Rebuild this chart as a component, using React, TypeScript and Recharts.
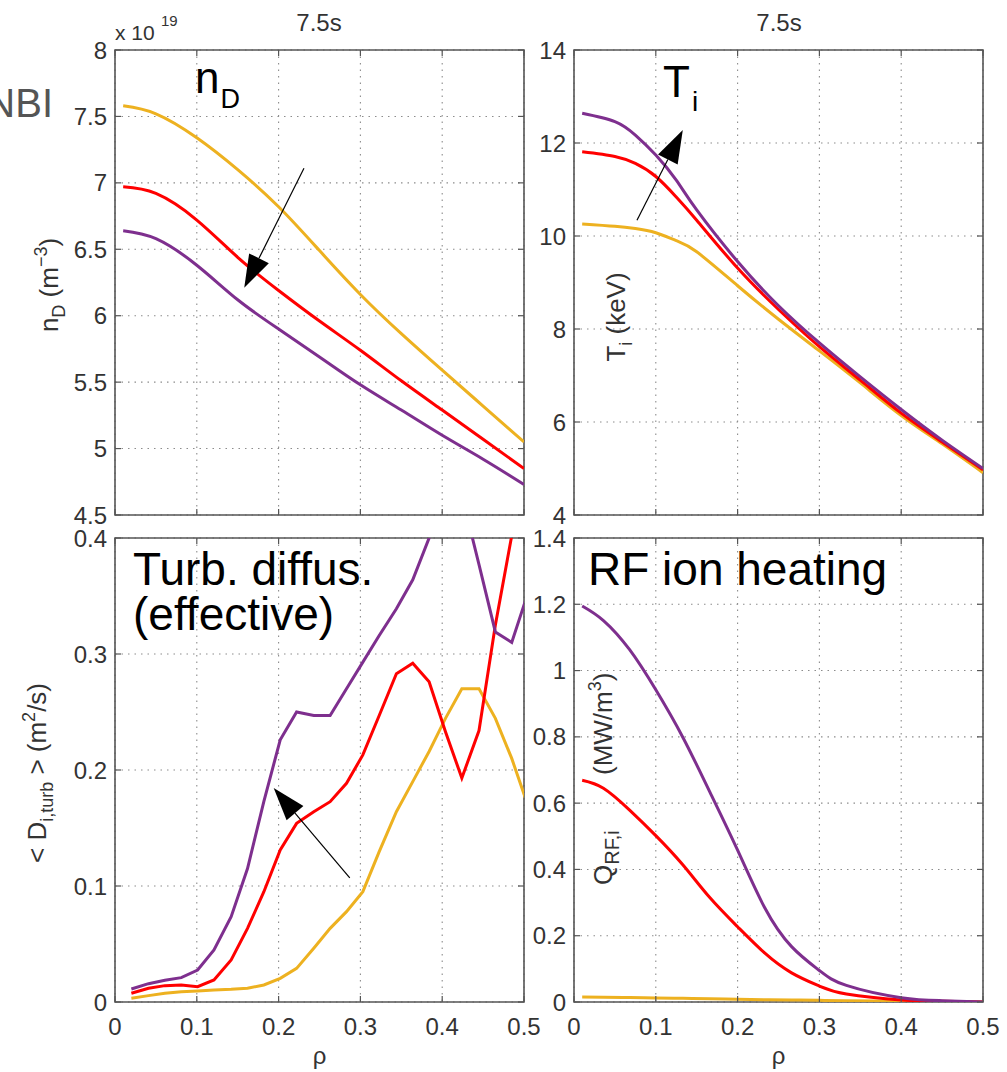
import React from 'react';
import { LineChart, Line, XAxis, YAxis, CartesianGrid, ReferenceArea, ReferenceLine } from 'recharts';

const FONT = '"Liberation Sans", Arial, Helvetica, sans-serif';
const YELLOW = '#EDB120';
const RED = '#FF0000';
const PURPLE = '#7E2F8E';
const FRAME = '#555555';
const TICK_TEXT = '#333333';
const GRID = '#8c8c8c';

// ---------- Panel 1: n_D (x10^19 m^-3) ----------
const rhoND = [0.01, 0.05, 0.1, 0.15, 0.2, 0.25, 0.3, 0.35, 0.4, 0.45, 0.5];
const nDYellow = [7.58, 7.52, 7.34, 7.1, 6.82, 6.49, 6.16, 5.865, 5.59, 5.32, 5.05];
const nDRed = [6.97, 6.92, 6.72, 6.44, 6.19, 5.96, 5.74, 5.51, 5.29, 5.07, 4.85];
const nDPurple = [6.64, 6.58, 6.38, 6.12, 5.9, 5.69, 5.48, 5.29, 5.1, 4.92, 4.73];

// ---------- Panel 2: T_i (keV) ----------
const rhoTi = [0.01, 0.05, 0.075, 0.1, 0.125, 0.15, 0.2, 0.25, 0.3, 0.35, 0.4, 0.45, 0.5];
const TiYellow = [10.26, 10.21, 10.16, 10.07, 9.9, 9.66, 8.93, 8.21, 7.53, 6.84, 6.14, 5.53, 4.91];
const TiRed = [11.81, 11.71, 11.56, 11.28, 10.84, 10.34, 9.31, 8.42, 7.62, 6.9, 6.19, 5.57, 4.97];
const TiPurple = [12.64, 12.46, 12.17, 11.74, 11.2, 10.56, 9.45, 8.5, 7.7, 6.97, 6.27, 5.61, 5.0];

// ---------- Panel 3: <D_i,turb> (m^2/s) ----------
const rhoD = [0.02, 0.041, 0.061, 0.081, 0.101, 0.121, 0.142, 0.162, 0.182, 0.202, 0.222, 0.243, 0.263,
  0.283, 0.303, 0.323, 0.344, 0.364, 0.384, 0.404, 0.424, 0.445, 0.465, 0.485, 0.505];
const DYellow = [0.0032, 0.0055, 0.0075, 0.0089, 0.0095, 0.0103, 0.0109, 0.0118, 0.0147, 0.0204, 0.029, 0.0463, 0.0635,
  0.0779, 0.0951, 0.1296, 0.164, 0.19, 0.216, 0.2445, 0.27, 0.27, 0.2445, 0.21, 0.169];
const DRed = [0.0075, 0.0118, 0.0141, 0.0147, 0.0132, 0.019, 0.0362, 0.0635, 0.0951, 0.131, 0.154, 0.164, 0.1727,
  0.1885, 0.213, 0.247, 0.283, 0.292, 0.276, 0.233, 0.193, 0.234, 0.325, 0.402, 0.48];
const DPurple = [0.0112, 0.0158, 0.0187, 0.021, 0.0276, 0.0448, 0.0736, 0.115, 0.173, 0.226, 0.25, 0.247, 0.247,
  0.27, 0.293, 0.316, 0.339, 0.364, 0.4, 0.46, 0.437, 0.377, 0.319, 0.31, 0.353];

// ---------- Panel 4: Q_RF,i (MW/m^3) ----------
const rhoQ = [0.01, 0.036, 0.068, 0.1, 0.133, 0.166, 0.2, 0.233, 0.266, 0.3, 0.333, 0.4, 0.45, 0.5];
const QYellow = [0.015, 0.0145, 0.0135, 0.012, 0.011, 0.01, 0.008, 0.007, 0.006, 0.005, 0.004, 0.002, 0.001, 0.0];
const QRed = [0.669, 0.645, 0.579, 0.502, 0.414, 0.315, 0.227, 0.148, 0.088, 0.048, 0.024, 0.006, 0.002, 0.0];
const QPurple = [1.195, 1.151, 1.063, 0.942, 0.799, 0.634, 0.458, 0.285, 0.167, 0.095, 0.05, 0.013, 0.004, 0.0];

// ---------- Ticks ----------
const xTicks = [0, 0.1, 0.2, 0.3, 0.4, 0.5];
const nDTicks = [4.5, 5, 5.5, 6, 6.5, 7, 7.5, 8];
const TiTicks = [4, 6, 8, 10, 12, 14];
const DTicks = [0, 0.1, 0.2, 0.3, 0.4];
const QTicks = [0, 0.2, 0.4, 0.6, 0.8, 1, 1.2, 1.4];

// ---------- Arrow annotations (data coordinates) ----------
const arrowND = [{ x: 0.231, y: 7.11 }, { x: 0.158, y: 6.21 }];
const arrowTi = [{ x: 0.077, y: 10.34 }, { x: 0.133, y: 12.28 }];
const arrowD = [{ x: 0.287, y: 0.107 }, { x: 0.194, y: 0.1845 }];

function rows(rho: number[], y: number[], r: number[], p: number[]) {
  return rho.map((x, i) => ({ rho: x, yellow: y[i], red: r[i], purple: p[i] }));
}

const ArrowShape = (p: any) => {
  const { x1, y1, x2, y2 } = p;
  const dx = x2 - x1;
  const dy = y2 - y1;
  const len = Math.hypot(dx, dy) || 1;
  const ux = dx / len;
  const uy = dy / len;
  const hl = 33;
  const hw = 11;
  const bx = x2 - ux * hl;
  const by = y2 - uy * hl;
  const px = -uy;
  const py = ux;
  return (
    <g>
      <line x1={x1} y1={y1} x2={bx} y2={by} stroke="#000" strokeWidth={1.2} />
      <polygon
        points={`${x2},${y2} ${bx + px * hw},${by + py * hw} ${bx - px * hw},${by - py * hw}`}
        fill="#000"
      />
    </g>
  );
};

function makeXTick(plotH: number, showLabel: boolean) {
  return (props: any) => {
    const { x, y, payload } = props;
    return (
      <g>
        <line x1={x} x2={x} y1={y} y2={y - 6} stroke={FRAME} strokeWidth={1.2} />
        <line x1={x} x2={x} y1={y - plotH} y2={y - plotH + 6} stroke={FRAME} strokeWidth={1.2} />
        {showLabel && (
          <text x={x} y={y + 33} textAnchor="middle" fontSize={24} fill={TICK_TEXT} fontFamily={FONT}>
            {String(payload.value)}
          </text>
        )}
      </g>
    );
  };
}

function makeYTick(plotW: number) {
  return (props: any) => {
    const { x, y, payload } = props;
    return (
      <g>
        <line x1={x} x2={x + 6} y1={y} y2={y} stroke={FRAME} strokeWidth={1.2} />
        <line x1={x + plotW} x2={x + plotW - 6} y1={y} y2={y} stroke={FRAME} strokeWidth={1.2} />
        <text x={x - 8} y={y} dy="0.36em" textAnchor="end" fontSize={24} fill={TICK_TEXT} fontFamily={FONT}>
          {String(payload.value)}
        </text>
      </g>
    );
  };
}

type PanelProps = {
  left: number;
  top: number;
  width: number;
  height: number;
  margin: { top: number; right: number; bottom: number; left: number };
  yWidth: number;
  xHeight: number;
  data: any[];
  yDomain: [number, number];
  yTicks: number[];
  showXLabels: boolean;
  curve: 'natural' | 'linear' | 'monotone';
  arrow?: { x: number; y: number }[];
};

function Panel(props: PanelProps) {
  const { left, top, width, height, margin, yWidth, xHeight, data, yDomain, yTicks, showXLabels, curve, arrow } = props;
  const plotW = width - margin.left - margin.right - yWidth;
  const plotH = height - margin.top - margin.bottom - xHeight;
  return (
    <div style={{ position: 'absolute', left, top, width, height }}>
      <LineChart width={width} height={height} data={data} margin={margin}>
        <CartesianGrid stroke={GRID} strokeDasharray="1.5 5" strokeWidth={1.1} />
        <XAxis
          dataKey="rho"
          type="number"
          domain={[0, 0.5]}
          ticks={xTicks}
          interval={0}
          allowDataOverflow
          axisLine={false}
          tickLine={false}
          tickSize={0}
          tickMargin={0}
          height={xHeight}
          tick={makeXTick(plotH, showXLabels)}
        />
        <YAxis
          type="number"
          domain={yDomain}
          ticks={yTicks}
          interval={0}
          allowDataOverflow
          axisLine={false}
          tickLine={false}
          tickSize={0}
          tickMargin={0}
          width={yWidth}
          tick={makeYTick(plotW)}
        />
        <Line type={curve} dataKey="yellow" stroke={YELLOW} strokeWidth={3} dot={false} activeDot={false} isAnimationActive={false} />
        <Line type={curve} dataKey="red" stroke={RED} strokeWidth={3} dot={false} activeDot={false} isAnimationActive={false} />
        <Line type={curve} dataKey="purple" stroke={PURPLE} strokeWidth={3} dot={false} activeDot={false} isAnimationActive={false} />
        <ReferenceArea
          x1={0}
          x2={0.5}
          y1={yDomain[0]}
          y2={yDomain[1]}
          fill="none"
          fillOpacity={0}
          stroke={FRAME}
          strokeWidth={1.6}
        />
        {arrow && <ReferenceLine segment={arrow as any} shape={ArrowShape} />}
      </LineChart>
    </div>
  );
}

export default function App() {
  // plot areas: left x 115-524, right x 574-983, top y 50-515, bottom y 538-1002
  const topM = { top: 50, right: 21, bottom: 17, left: 55 };
  const topRM = { top: 50, right: 24, bottom: 17, left: 4 };
  const botM = { top: 26, right: 21, bottom: 30, left: 55 };
  const botRM = { top: 26, right: 24, bottom: 30, left: 4 };
  return (
    <div style={{ position: 'absolute', left: 0, top: 0, width: 1007, height: 1072, background: '#fff', fontFamily: FONT }}>
      <Panel left={0} top={0} width={545} height={540} margin={topM} yWidth={60} xHeight={8}
        data={rows(rhoND, nDYellow, nDRed, nDPurple)} yDomain={[4.5, 8]} yTicks={nDTicks}
        showXLabels={false} curve="natural" arrow={arrowND} />
      <Panel left={526} top={0} width={481} height={540} margin={topRM} yWidth={44} xHeight={8}
        data={rows(rhoTi, TiYellow, TiRed, TiPurple)} yDomain={[4, 14]} yTicks={TiTicks}
        showXLabels={false} curve="natural" arrow={arrowTi} />
      <Panel left={0} top={512} width={545} height={560} margin={botM} yWidth={60} xHeight={40}
        data={rows(rhoD, DYellow, DRed, DPurple)} yDomain={[0, 0.4]} yTicks={DTicks}
        showXLabels={true} curve="linear" arrow={arrowD} />
      <Panel left={526} top={512} width={481} height={560} margin={botRM} yWidth={44} xHeight={40}
        data={rows(rhoQ, QYellow, QRed, QPurple)} yDomain={[0, 1.4]} yTicks={QTicks}
        showXLabels={true} curve="natural" />

      <svg width={1007} height={1072} style={{ position: 'absolute', left: 0, top: 0, pointerEvents: 'none' }} fontFamily={FONT}>
        <text x={53} y={117} textAnchor="end" fontSize={40} fill="#555">NBI</text>
        <text x={115} y={40} fontSize={21} fill={TICK_TEXT}>x 10</text>
        <text x={161} y={26} fontSize={15} fill={TICK_TEXT}>19</text>
        <text x={319} y={31} textAnchor="middle" fontSize={24} fill={TICK_TEXT}>7.5s</text>
        <text x={779} y={31} textAnchor="middle" fontSize={24} fill={TICK_TEXT}>7.5s</text>
        <text x={195} y={93} fontSize={44} fill="#000">n<tspan dx={1} dy={15} fontSize={27}>D</tspan></text>
        <text x={663} y={97} fontSize={44} fill="#000">T<tspan dx={2} dy={14} fontSize={28}>i</tspan></text>
        <text x={133} y={585} fontSize={46} fill="#000">Turb. diffus.</text>
        <text x={133} y={630} fontSize={46} fill="#000">(effective)</text>
        <text x={588} y={585} fontSize={46} fill="#000">RF ion heating</text>
        <text transform="translate(58,285) rotate(-90)" textAnchor="middle" fontSize={26} fill={TICK_TEXT}>
          <tspan>n</tspan>
          <tspan dy={7} fontSize={18}>D</tspan>
          <tspan dy={-7}> (m</tspan>
          <tspan dy={-11} fontSize={18}>−3</tspan>
          <tspan dy={11}>)</tspan>
        </text>
        <text transform="translate(625,317) rotate(-90)" textAnchor="middle" fontSize={26} fill={TICK_TEXT}>
          <tspan>T</tspan>
          <tspan dy={7} fontSize={18}>i</tspan>
          <tspan dy={-7}> (keV)</tspan>
        </text>
        <text transform="translate(46,773) rotate(-90)" textAnchor="middle" fontSize={26} fill={TICK_TEXT}>
          <tspan>{'< D'}</tspan>
          <tspan dy={7} fontSize={18}>i,turb</tspan>
          <tspan dy={-7}>{' > (m'}</tspan>
          <tspan dy={-11} fontSize={18}>2</tspan>
          <tspan dy={11}>/s)</tspan>
        </text>
        <text transform="translate(612,885) rotate(-90)" textAnchor="start" fontSize={26} fill={TICK_TEXT}>
          <tspan>Q</tspan>
          <tspan dy={7} fontSize={20}>RF,i</tspan>
        </text>
        <text transform="translate(612,775) rotate(-90)" textAnchor="start" fontSize={26} fill={TICK_TEXT}>
          <tspan>(MW/m</tspan>
          <tspan dy={-11} fontSize={18}>3</tspan>
          <tspan dy={11}>)</tspan>
        </text>
        <text x={319.5} y={1064} textAnchor="middle" fontSize={24} fill={TICK_TEXT}>ρ</text>
        <text x={778.5} y={1064} textAnchor="middle" fontSize={24} fill={TICK_TEXT}>ρ</text>
      </svg>
    </div>
  );
}
